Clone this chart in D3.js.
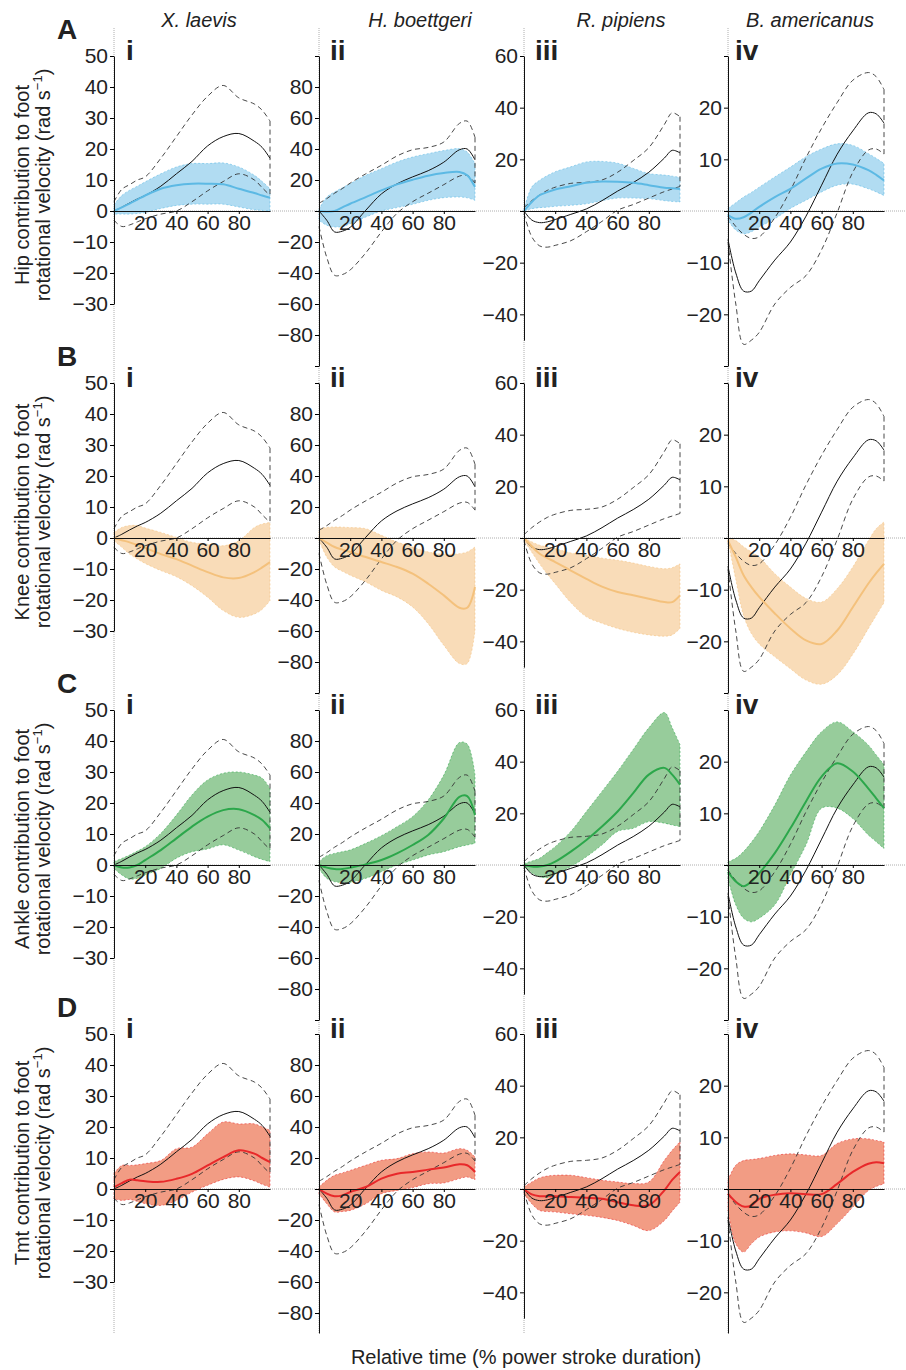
<!DOCTYPE html>
<html>
<head>
<meta charset="utf-8">
<script src="https://cdn.jsdelivr.net/npm/d3@7"></script>
<style>
  body { margin: 0; background: #fff; }
  svg { display: block; font-family: "Liberation Sans", Arial, Helvetica, sans-serif; }
</style>
</head>
<body>
<svg id="fig"></svg>
<script>
// ---------- data ----------
const species = ["X. laevis", "H. boettgeri", "R. pipiens", "B. americanus"];
const numerals = ["i", "ii", "iii", "iv"];
const joints = ["Hip", "Knee", "Ankle", "Tmt"];
const rowLetters = ["A", "B", "C", "D"];
const xTitle = "Relative time (% power stroke duration)";

// relative time (% power stroke)
const pct = [0, 5, 10, 15, 20, 30, 40, 50, 60, 70, 80, 90, 95, 100];
const xTicks = [20, 40, 60, 80];

// y axis per species column
const yTop = [50, 100, 60, 30];
const yBottom = [-30, -100, -50, -30];
const yTicks = [
  [-30, -20, -10, 0, 10, 20, 30, 40, 50],
  [-100, -80, -60, -40, -20, 0, 20, 40, 60, 80, 100],
  [-40, -20, 0, 20, 40, 60],
  [-30, -20, -10, 0, 10, 20, 30]
];
const yLabelled = [
  [-30, -20, -10, 0, 10, 20, 30, 40, 50],
  [-80, -60, -40, -20, 20, 40, 60, 80],
  [-40, -20, 20, 40, 60],
  [-20, -10, 10, 20]
];

// total foot rotational velocity (black), one array per species
const totalMean = [
  [0, 1.2, 2.6, 3.9, 5, 8, 12, 16, 21, 24, 25, 22.5, 20.5, 17],
  [0, -6, -13.5, -13, -10.5, 0.5, 11, 17.5, 22, 26, 31.5, 39.5, 40, 33],
  [0, -3.5, -4.5, -4.2, -3.3, -1.3, 0.8, 4, 7.7, 11, 15, 20.5, 23.5, 22.5],
  [-5.5, -12, -15.5, -15.5, -13.5, -9.5, -6, -1, 5, 11, 15.5, 19, 18.8, 17]
];
const totalUpper = [
  [3, 7, 8.5, 10, 11, 17, 24, 31, 37, 40.5, 36.5, 34.5, 32.5, 29],
  [5, 8, 11.5, 14.5, 18, 24, 29.5, 35.5, 39.5, 41, 44.5, 56.5, 58, 47.5],
  [1.3, 4, 6.2, 8, 9.2, 10.7, 11.1, 12, 15, 19.5, 24.5, 33.5, 38, 36.5],
  [-1, -3, -4.5, -5.3, -5, -1.3, 4, 10.3, 16, 21, 25.3, 26.8, 26, 23.5]
];
const totalLower = [
  [-3, -5, -4.5, -3.5, -2.5, -1, 0, 3, 6.5, 9.5, 12, 10, 7.5, 5],
  [-10, -30, -41.5, -41, -38, -27, -13.5, -1.5, 6, 11.5, 17, 22.5, 23, 18],
  [-1, -10, -13.5, -14, -13.3, -11.5, -8, -4, 0.3, 2.5, 5, 7.5, 8.5, 9.5],
  [-6, -18, -25.8, -25, -23.5, -18, -14.8, -12.5, -7.5, -0.3, 7.5, 11.8, 12, 11]
];

// hip contribution
const hipMean = [
  [0, 1.2, 2.4, 3.7, 5, 7.2, 8.3, 8.8, 8.8, 8.6, 7.2, 5.8, 5, 4.3],
  [0, -0.5, 0, 2.3, 4.7, 9, 13.3, 17.2, 20.2, 22.8, 24.5, 25.2, 23, 15.5],
  [0, 3.5, 6.1, 7.3, 8.3, 9.6, 10.9, 11.4, 11.3, 10.9, 10, 9, 8.8, 8.5],
  [-0.8, -1.5, -1.2, -0.3, 0.8, 2.7, 4.3, 6.3, 8.2, 9.2, 9, 7.9, 7, 5.9]
];
const hipUpper = [
  [2, 5, 6.7, 8, 9.4, 12, 14.2, 15.3, 15.3, 15.5, 14.2, 11.5, 9.5, 7.2],
  [1, 9, 12.3, 15, 17.6, 23, 27.3, 31.6, 34.8, 37, 39, 40.2, 38, 30.5],
  [0.5, 9.3, 11.9, 13.7, 15.2, 17.1, 19, 19.2, 18.5, 16.5, 14.5, 13.9, 13.5, 13],
  [0.5, 1.6, 2.7, 3.6, 4.6, 6.6, 8.5, 10.5, 12, 13, 12.7, 11.1, 10.2, 9.2]
];
const hipLower = [
  [-1, -1, -1, -0.8, -0.5, 0.8, 1.8, 2.2, 2.2, 2.2, 1.3, 0.4, 0.2, 0],
  [-6, -9.2, -10.3, -10, -8.2, -3.9, 0, 2.2, 4.3, 6.9, 8.6, 9, 8.5, 6.9],
  [0, 0.9, 1.3, 1.5, 1.8, 2.2, 2.8, 4, 5, 5, 4.8, 4, 3.7, 3.5],
  [-1.8, -3.7, -4.4, -4, -3.1, -1.5, 0.5, 2.1, 3.7, 5, 5.2, 4.3, 3.7, 3]
];

// knee contribution
const kneeMean = [
  [0, -0.7, -1.4, -2.3, -3.2, -5.2, -6.8, -8.9, -11, -12.7, -12.9, -11, -9.5, -7.8],
  [0, -3, -5.8, -7.5, -9, -12.3, -15.5, -18.7, -23, -29.5, -37, -45, -45, -31.6],
  [0, -3.2, -6.1, -7.8, -9.3, -12.6, -15.8, -18.8, -20.9, -22.2, -23.5, -24.8, -24.8, -22.2],
  [-0.5, -3.7, -7.2, -9.5, -11.4, -14.6, -17.5, -19.8, -20.5, -17.9, -13.4, -8.8, -6.8, -5]
];
const kneeUpper = [
  [1.8, 3.4, 4, 4, 3.2, 1.8, 0.2, -1.4, -2, -2.5, -0.9, 3.4, 4.5, 5],
  [6, 6.8, 7.1, 7, 6.7, 6, 1.7, -2.6, -5.8, -9, -10.5, -10.1, -9, -5.8],
  [0, -1.5, -2.8, -3.5, -4.1, -5.8, -6.7, -7.8, -8.6, -9.7, -11, -11.9, -11.5, -10],
  [0, -0.5, -1.7, -2.7, -3.7, -6.9, -9.5, -11.7, -12.4, -9.8, -5.6, -0.5, 1.8, 3.1]
];
const kneeLower = [
  [-0.9, -3, -5.2, -6.8, -8.2, -10.5, -12.5, -15.4, -19.1, -23.4, -25.6, -24.5, -23, -20.2],
  [-1.5, -12.3, -18.7, -21.5, -24, -28.4, -33.8, -38, -44.5, -55.3, -69.2, -81, -81, -59.6],
  [-1, -5.5, -10, -14, -17.7, -25, -30.5, -33, -35, -36.5, -37.5, -38, -37.5, -35],
  [-0.5, -8, -15, -18.5, -20.5, -23, -25.3, -27.5, -28.3, -26.5, -22.5, -17.5, -15, -12.5]
];

// ankle contribution
const ankleMean = [
  [0, -0.8, -0.8, 0, 1.6, 4.8, 8.6, 12.4, 15.6, 17.7, 18, 16.1, 14.5, 11.8],
  [0, -1.7, -2.6, -2.6, -1.7, 0.4, 3.2, 7.5, 12.9, 19.4, 30, 44, 44.5, 32.3],
  [0, -0.6, -0.6, 0, 1.3, 5.2, 9.7, 14.9, 20.7, 27.8, 35, 37.6, 35, 31.1],
  [-1.3, -3.2, -4.1, -3.2, -1.6, 2.3, 7.1, 12.3, 17.1, 19.7, 18.1, 14.8, 12.9, 11]
];
const ankleUpper = [
  [1.1, 2.1, 3.2, 4.5, 5.9, 10.2, 16.1, 22.6, 27.4, 29.6, 30, 29, 28, 24.7],
  [2.2, 6, 7.5, 8.6, 9.7, 14, 18.9, 24.7, 31.2, 42, 58, 79, 78, 58],
  [0.6, 1.5, 2.6, 4.8, 7.1, 13, 20.7, 28.5, 36.3, 44.7, 53.1, 59, 53.1, 46.6],
  [0.6, 1.3, 2.6, 4.4, 6.5, 11.6, 17.4, 21.9, 25.8, 27.7, 25.8, 23.2, 21.3, 19.4]
];
const ankleLower = [
  [-1.1, -3.2, -4.5, -4.3, -3.2, -1.1, 2.2, 4.3, 5.2, 6.5, 4.8, 2.7, 1.8, 1.1],
  [-2.2, -8.6, -10.8, -11.2, -11.2, -8.6, -4.3, 0, 3.2, 6.5, 8.6, 11.8, 12.9, 14],
  [-0.6, -3, -4.5, -4.9, -3.6, -0.6, 3.2, 7.8, 13, 14.2, 16.8, 16.2, 15.5, 14.9],
  [-2.6, -7.7, -10.3, -11, -10.3, -7.7, -1.9, 3.9, 11, 11, 9, 5.8, 4.5, 3.2]
];

// tarsometatarsal (Tmt) contribution
const tmtMean = [
  [0.6, 1.9, 3, 2.8, 2.5, 2.3, 3.3, 4.9, 7.6, 10.3, 12.5, 11.4, 10, 8.7],
  [0, -3, -4.7, -4.1, -1.9, 1.3, 6.7, 9.9, 11, 12.5, 13.8, 15.9, 15.3, 11],
  [0, -2.1, -2.8, -2.8, -2.8, -3.1, -3.4, -3.8, -5.1, -6.3, -6.3, -0.5, 3.5, 6.6],
  [-0.9, -2.5, -3.4, -3.2, -1.9, -1.1, -0.8, -1, -1, 1, 3.3, 4.9, 5.2, 5]
];
const tmtUpper = [
  [5, 7.6, 7.6, 7.8, 8.2, 9.2, 13, 13.5, 17.8, 21.6, 21, 21, 20, 18.9],
  [1.3, 5.6, 8.8, 10.4, 12, 15.3, 18.5, 19.6, 22.8, 23.9, 23.2, 26, 25, 20.6],
  [0.8, 2.7, 4.3, 5, 5.3, 5.3, 4.4, 3.4, 2.7, 2.1, 2.7, 11.1, 15, 18.3],
  [1.7, 4.6, 5.5, 5.7, 5.9, 6.5, 6.8, 6.6, 6.5, 8.8, 9.7, 9.7, 9.4, 9.1]
];
const tmtLower = [
  [-3.1, -3.7, -3.4, -4, -4.7, -5.3, -3.7, -1, 1.2, 3.1, 3.9, 2.6, 1.5, 0.6],
  [-3, -9.5, -14.8, -14.5, -13.8, -9.5, -3, -0.9, 0.9, 3.4, 3.9, 6.7, 7.7, 6],
  [-1.8, -5.7, -8.3, -8.7, -8.9, -9.6, -10.2, -11, -12.2, -14.1, -16.1, -12.2, -8.5, -5.1],
  [-4.1, -10.6, -12.2, -10.6, -9.3, -8.3, -8.1, -8.5, -9.2, -6.7, -3.5, -0.3, 0.5, 1]
];

const jointSeries = [
  { mean: hipMean, upper: hipUpper, lower: hipLower, fill: "#b1dcf2", line: "#5cb9e4" },
  { mean: kneeMean, upper: kneeUpper, lower: kneeLower, fill: "#f9dcb8", line: "#f4c17c" },
  { mean: ankleMean, upper: ankleUpper, lower: ankleLower, fill: "#97cc9b", line: "#2ca74b" },
  { mean: tmtMean, upper: tmtUpper, lower: tmtLower, fill: "#f29c84", line: "#e8282a" }
];

// ---------- layout ----------
const width = 906;
const height = 1370;
const axisX = [114, 319, 524, 728];
const zeroY = [211, 538, 865, 1189];
const plotW = 156;
const halfH = 155;
const bottomLimit = 1333;
const titleX = [199, 420, 621, 810];
const numeralDx = [12, 11, 11, 7];

const svg = d3.select("#fig").attr("width", width).attr("height", height);

// dotted guide lines behind everything
const guides = svg.append("g").attr("class", "guides");
axisX.forEach((ax) => {
  guides.append("line")
    .attr("x1", ax).attr("x2", ax).attr("y1", 28).attr("y2", bottomLimit)
    .attr("stroke", "#999").attr("stroke-width", 0.8).attr("stroke-dasharray", "1,1");
});
zeroY.forEach((zy) => {
  guides.append("line")
    .attr("x1", axisX[0]).attr("x2", width).attr("y1", zy).attr("y2", zy)
    .attr("stroke", "#999").attr("stroke-width", 0.8).attr("stroke-dasharray", "1,1");
});

const curve = d3.curveCatmullRom.alpha(0.5);

jointSeries.forEach((joint, r) => {
  species.forEach((sp, c) => {
    const ppu = halfH / yTop[c];
    const lo = Math.max(yBottom[c], -(bottomLimit - zeroY[r]) / ppu);
    const x = d3.scaleLinear().domain([0, 100]).range([axisX[c], axisX[c] + plotW]);
    const y = d3.scaleLinear().domain([lo, yTop[c]])
      .range([zeroY[r] - lo * ppu, zeroY[r] - yTop[c] * ppu]);

    const pts = pct.map((p, i) => ({
      p,
      m: joint.mean[c][i], u: joint.upper[c][i], l: joint.lower[c][i],
      tm: totalMean[c][i], tu: totalUpper[c][i], tl: totalLower[c][i]
    }));

    const g = svg.append("g").attr("class", `panel-${r}-${c}`);

    // SD band of the joint contribution
    g.append("path")
      .datum(pts)
      .attr("d", d3.area().x((d) => x(d.p)).y0((d) => y(d.l)).y1((d) => y(d.u)).curve(curve))
      .attr("fill", joint.fill)
      .attr("stroke", joint.line)
      .attr("stroke-width", 0.7)
      .attr("stroke-dasharray", "2,2")
      .attr("stroke-opacity", 0.8);

    // total foot velocity +/- SD (black dashed)
    const dashed = (key) => d3.line().x((d) => x(d.p)).y((d) => y(d[key])).curve(curve);
    ["tu", "tl"].forEach((key) => {
      g.append("path")
        .datum(pts)
        .attr("d", dashed(key))
        .attr("fill", "none")
        .attr("stroke", "#333")
        .attr("stroke-width", 0.9)
        .attr("stroke-dasharray", "5,3.5");
    });
    const last = pts[pts.length - 1];
    g.append("line")
      .attr("x1", x(100)).attr("x2", x(100))
      .attr("y1", y(last.tu)).attr("y2", y(last.tl))
      .attr("stroke", "#333").attr("stroke-width", 0.9).attr("stroke-dasharray", "5,3.5");

    // total mean
    g.append("path")
      .datum(pts)
      .attr("d", dashed("tm"))
      .attr("fill", "none")
      .attr("stroke", "#111")
      .attr("stroke-width", 1);

    // joint mean
    g.append("path")
      .datum(pts)
      .attr("d", dashed("m"))
      .attr("fill", "none")
      .attr("stroke", joint.line)
      .attr("stroke-width", 2);

    // axes
    const yAxis = g.append("g")
      .call(
        d3.axisLeft(y)
          .tickValues(yTicks[c].filter((t) => t >= lo - 1e-6))
          .tickSize(4)
          .tickPadding(2)
          .tickSizeOuter(0)
          .tickFormat((t) => (yLabelled[c].includes(t) ? d3.format("d")(t) : ""))
      )
      .attr("transform", `translate(${axisX[c]},0)`)
      .attr("font-family", null)
      .attr("font-size", 21);
    yAxis.select(".domain").attr("stroke", "#111");
    yAxis.selectAll("text").attr("fill", "#222");

    const xAxis = g.append("g")
      .attr("transform", `translate(0,${zeroY[r]})`)
      .call(d3.axisBottom(x).tickValues(xTicks).tickSize(3).tickPadding(1).tickSizeOuter(0))
      .attr("font-family", null)
      .attr("font-size", 21);
    xAxis.select(".domain").attr("stroke", "#111");
    xAxis.selectAll("text").attr("fill", "#222");

    // roman numeral
    g.append("text")
      .attr("x", axisX[c] + numeralDx[c])
      .attr("y", zeroY[r] - 151)
      .attr("font-size", 28)
      .attr("font-weight", "bold")
      .attr("fill", "#222")
      .text(numerals[c]);
  });

  // row letter
  svg.append("text")
    .attr("x", 57)
    .attr("y", zeroY[r] - 172)
    .attr("font-size", 28)
    .attr("font-weight", "bold")
    .attr("fill", "#222")
    .text(rowLetters[r]);

  // y axis title (two lines)
  svg.append("text")
    .attr("transform", `translate(29,${zeroY[r] - 26}) rotate(-90)`)
    .attr("text-anchor", "middle")
    .attr("font-size", 20)
    .attr("fill", "#222")
    .text(`${joints[r]} contribution to foot`);
  const t2 = svg.append("text")
    .attr("transform", `translate(50,${zeroY[r] - 26}) rotate(-90)`)
    .attr("text-anchor", "middle")
    .attr("font-size", 20)
    .attr("fill", "#222");
  t2.append("tspan").text("rotational velocity (rad s");
  t2.append("tspan").attr("font-size", 13).attr("dy", -8).text("\u22121");
  t2.append("tspan").attr("dy", 8).text(")");
});

// species titles
species.forEach((sp, c) => {
  svg.append("text")
    .attr("x", titleX[c])
    .attr("y", 27)
    .attr("text-anchor", "middle")
    .attr("font-size", 20)
    .attr("font-style", "italic")
    .attr("fill", "#222")
    .text(sp);
});

// x axis title
svg.append("text")
  .attr("x", 526)
  .attr("y", 1364)
  .attr("text-anchor", "middle")
  .attr("font-size", 20)
  .attr("fill", "#222")
  .text(xTitle);
</script>
</body>
</html>
